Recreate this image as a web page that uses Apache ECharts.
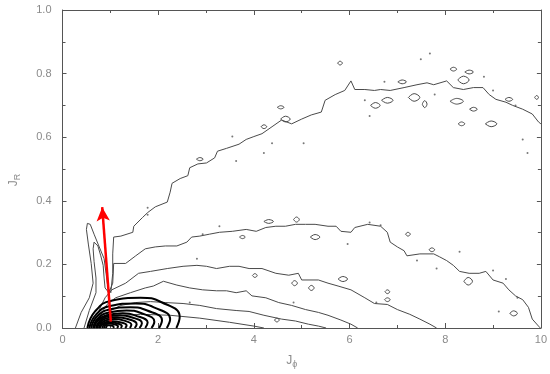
<!DOCTYPE html>
<html>
<head>
<meta charset="utf-8">
<script src="https://cdn.jsdelivr.net/npm/echarts@6/dist/echarts.min.js"></script>
<style>
  html, body { margin: 0; padding: 0; background: #fff; }
  #chart { width: 550px; height: 374px; }
</style>
</head>
<body>
<div id="chart"></div>
<script>
// axis ranges / ticks
const xRange = [0, 10]
const yRange = [0, 1]
const xTickStep = 2
const yTickStep = 0.2

// thin contour lines [J_phi, J_R]
const contourOuter = [
  [0.27,0],[0.39,0.049],[0.56,0.095],[0.64,0.141],[0.60,0.203],[0.54,0.264],[0.50,0.310],
  [0.52,0.329],[0.58,0.326],[0.66,0.295],[0.76,0.258],[0.87,0.218],[0.91,0.172],[0.95,0.126],
  [1.01,0.111],[1.05,0.172],[1.05,0.233],
  [1.07,0.286],[1.22,0.289],[1.47,0.301],[1.49,0.320],[1.67,0.347],[1.78,0.363],[1.94,0.381],
  [2.19,0.396],[2.25,0.427],[2.29,0.455],[2.46,0.470],[2.62,0.479],[2.66,0.504],[2.83,0.516],
  [3.01,0.519],[3.18,0.535],[3.24,0.556],[3.43,0.565],[3.69,0.578],[3.84,0.593],[4.00,0.602],
  [4.17,0.611],[4.38,0.633],[4.58,0.654],[4.79,0.642],[5.00,0.657],[5.20,0.670],[5.41,0.679],
  [5.49,0.716],[5.70,0.734],[5.90,0.747],[6.03,0.777],[6.11,0.750],[6.32,0.750],[6.52,0.747],
  [6.65,0.750],[6.85,0.747],[7.14,0.756],[7.41,0.765],[7.62,0.771],[7.76,0.765],[8.03,0.777],
  [8.17,0.756],[8.38,0.750],[8.59,0.756],[8.79,0.756],[8.92,0.734],[9.06,0.719],[9.27,0.710],
  [9.41,0.700],[9.62,0.688],[9.82,0.673],[9.95,0.648],[10.0,0.642]
]
const contour2 = [
  [0.45,0],[0.56,0.055],[0.70,0.111],[0.70,0.157],[0.66,0.209],[0.64,0.249],[0.66,0.270],
  [0.70,0.273],[0.74,0.258],[0.80,0.227],[0.85,0.197],[0.87,0.157],[0.89,0.126],[0.97,0.111],
  [1.05,0.141],[1.07,0.203],[1.32,0.203],
  [1.53,0.227],[1.73,0.249],[1.94,0.255],[2.15,0.258],[2.39,0.258],[2.60,0.270],[2.70,0.286],
  [2.87,0.289],[3.07,0.295],[3.28,0.301],[3.55,0.304],[3.84,0.310],[4.05,0.304],[4.25,0.316],
  [4.46,0.320],[4.66,0.320],[4.87,0.326],[5.08,0.326],[5.28,0.326],[5.55,0.320],[5.72,0.320],
  [5.82,0.304],[6.03,0.301],[6.11,0.316],[6.38,0.326],[6.65,0.320],[6.79,0.301],[6.85,0.270],
  [7.00,0.255],[7.14,0.243],[7.20,0.227],[7.47,0.233],[7.76,0.233],[7.88,0.224],[8.03,0.212],
  [8.17,0.197],[8.30,0.178],[8.50,0.172],[8.71,0.172],[8.85,0.178],[9.00,0.151],[9.21,0.141],
  [9.33,0.120],[9.47,0.101],[9.62,0.089],[9.74,0.065],[9.82,0.028],[9.95,0.006],[9.99,0]
]
const contour3 = [
  [0.76,0.055],[0.89,0.095],[1.03,0.120],[1.32,0.141],[1.59,0.172],[1.84,0.178],[2.19,0.187],
  [2.52,0.194],[2.81,0.197],[3.01,0.194],[3.22,0.187],[3.49,0.194],[3.69,0.194],[3.90,0.187],
  [4.17,0.187],[4.46,0.172],[4.73,0.166],[4.93,0.172],[5.00,0.151],[5.35,0.151],[5.55,0.141],
  [5.76,0.132],[6.03,0.120],[6.32,0.095],[6.52,0.077],[6.79,0.074],[7.00,0.058],[7.26,0.043],
  [7.47,0.028],[7.68,0.012],[7.82,0]
]
const contour4 = [
  [0.80,0.043],[0.93,0.074],[1.11,0.095],[1.42,0.111],[1.73,0.126],[1.90,0.132],[2.11,0.147],
  [2.39,0.135],[2.66,0.126],[2.93,0.120],[3.22,0.117],[3.43,0.117],[3.63,0.111],[3.84,0.117],
  [3.96,0.101],[4.25,0.095],[4.52,0.080],[4.79,0.071],[5.08,0.058],[5.35,0.049],[5.55,0.040],
  [5.82,0.025],[6.03,0.012],[6.17,0]
]
const contour5 = [
  [0.85,0.031],[1.01,0.055],[1.22,0.071],[1.53,0.080],[1.84,0.083],[2.15,0.080],[2.52,0.077],
  [2.87,0.071],[3.22,0.061],[3.63,0.055],[3.90,0.052],[4.21,0.040],[4.58,0.028],[4.87,0.022],
  [5.14,0.012],[5.35,0.006],[5.51,0]
]
const contour6 = [
  [1.01,0.037],[1.63,0.043],[2.25,0.040],[2.87,0.031],[3.49,0.018],[4.00,0.006],[4.21,0]
]
const thinContours = [contourOuter, contour2, contour3, contour4, contour5, contour6]

// thick nested contours round the density peak
const coreContours = [
  [[0.52,0],[0.68,0.052],[1.02,0.086],[1.63,0.095],[2.07,0.081],[2.45,0.035],[2.38,0]],
  [[0.56,0],[0.70,0.042],[0.99,0.069],[1.53,0.077],[1.91,0.065],[2.25,0.028],[2.18,0]],
  [[0.60,0],[0.72,0.036],[0.98,0.058],[1.42,0.065],[1.77,0.055],[2.08,0.024],[2.02,0]],
  [[0.64,0],[0.74,0.030],[0.97,0.049],[1.34,0.055],[1.64,0.047],[1.92,0.020],[1.86,0]],
  [[0.66,0],[0.75,0.025],[0.95,0.041],[1.26,0.046],[1.53,0.039],[1.78,0.017],[1.73,0]],
  [[0.70,0],[0.78,0.022],[0.94,0.036],[1.20,0.040],[1.44,0.034],[1.66,0.015],[1.61,0]],
  [[0.72,0],[0.79,0.019],[0.93,0.031],[1.14,0.034],[1.35,0.029],[1.55,0.012],[1.51,0]],
  [[0.76,0],[0.81,0.015],[0.93,0.025],[1.09,0.028],[1.27,0.024],[1.44,0.010],[1.41,0]],
  [[0.78,0],[0.83,0.012],[0.92,0.019],[1.05,0.021],[1.20,0.018],[1.34,0.008],[1.31,0]],
  [[0.83,0],[0.86,0.010],[0.93,0.016],[1.01,0.018],[1.13,0.015],[1.24,0.006],[1.22,0]],
  [[0.87,0],[0.89,0.008],[0.94,0.013],[0.99,0.014],[1.08,0.012],[1.16,0.005],[1.14,0]],
  [[0.91,0],[0.92,0.005],[0.94,0.008],[0.97,0.009],[1.02,0.008],[1.07,0.003],[1.06,0]]
]

// small closed islands
const islands = [
  [[5.75,0.833],[5.80,0.839],[5.85,0.833],[5.80,0.827]],
  [[8.10,0.814],[8.17,0.820],[8.24,0.814],[8.17,0.808]],
  [[8.41,0.805],[8.50,0.811],[8.59,0.805],[8.50,0.799]],
  [[8.26,0.780],[8.38,0.792],[8.50,0.780],[8.38,0.768]],
  [[7.01,0.774],[7.10,0.780],[7.19,0.774],[7.10,0.768]],
  [[7.23,0.725],[7.35,0.737],[7.47,0.725],[7.35,0.713]],
  [[7.52,0.704],[7.57,0.715],[7.62,0.704],[7.57,0.693]],
  [[6.44,0.700],[6.54,0.709],[6.64,0.700],[6.54,0.691]],
  [[6.67,0.716],[6.79,0.725],[6.91,0.716],[6.79,0.707]],
  [[8.10,0.713],[8.24,0.722],[8.38,0.713],[8.24,0.704]],
  [[8.51,0.688],[8.59,0.694],[8.67,0.688],[8.59,0.682]],
  [[9.25,0.719],[9.33,0.725],[9.41,0.719],[9.33,0.713]],
  [[8.27,0.642],[8.34,0.648],[8.41,0.642],[8.34,0.636]],
  [[8.84,0.642],[8.96,0.651],[9.08,0.642],[8.96,0.633]],
  [[4.49,0.694],[4.56,0.699],[4.63,0.694],[4.56,0.689]],
  [[4.56,0.657],[4.66,0.666],[4.76,0.657],[4.66,0.648]],
  [[2.80,0.531],[2.87,0.536],[2.94,0.531],[2.87,0.526]],
  [[4.21,0.335],[4.31,0.341],[4.41,0.335],[4.31,0.329]],
  [[4.83,0.341],[4.89,0.349],[4.95,0.341],[4.89,0.333]],
  [[5.18,0.286],[5.28,0.294],[5.38,0.286],[5.28,0.278]],
  [[7.17,0.295],[7.22,0.301],[7.27,0.295],[7.22,0.289]],
  [[8.39,0.147],[8.48,0.159],[8.57,0.147],[8.48,0.135]],
  [[9.35,0.046],[9.43,0.054],[9.51,0.046],[9.43,0.038]],
  [[4.79,0.141],[4.85,0.149],[4.91,0.141],[4.85,0.133]],
  [[5.14,0.126],[5.20,0.134],[5.26,0.126],[5.20,0.118]],
  [[5.76,0.154],[5.86,0.162],[5.96,0.154],[5.86,0.146]],
  [[6.74,0.114],[6.79,0.120],[6.84,0.114],[6.79,0.108]],
  [[6.73,0.089],[6.79,0.095],[6.85,0.089],[6.79,0.083]],
  [[3.97,0.165],[4.02,0.171],[4.07,0.165],[4.02,0.159]],
  [[7.66,0.246],[7.72,0.252],[7.78,0.246],[7.72,0.240]],
  [[4.43,0.025],[4.48,0.031],[4.53,0.025],[4.48,0.019]],
  [[3.70,0.286],[3.76,0.291],[3.82,0.286],[3.76,0.281]],
  [[9.87,0.725],[9.91,0.731],[9.95,0.725],[9.91,0.719]],
  [[4.15,0.633],[4.21,0.639],[4.27,0.633],[4.21,0.627]]
]

// isolated specks
const specks = [
  [7.49,0.845],[7.68,0.863],[8.81,0.790],[6.73,0.774],[7.78,0.734],[6.32,0.716],[6.42,0.667],
  [9.00,0.747],[9.47,0.700],[9.62,0.593],[5.04,0.581],[4.38,0.581],[3.55,0.602],[3.63,0.525],
  [1.78,0.378],[1.78,0.356],[5.96,0.264],[6.42,0.332],[6.65,0.323],[7.41,0.212],[7.82,0.187],
  [8.30,0.240],[9.00,0.181],[9.27,0.154],[9.51,0.095],[3.28,0.320],[2.93,0.295],[2.81,0.218],
  [2.66,0.080],[4.83,0.080],[6.56,0.080],[9.12,0.052],[4.21,0.550],[9.72,0.550]
]

// red arrow: start, tip
const arrow = [[1.01, 0.02], [0.83, 0.38]]

const chart = echarts.init(document.getElementById('chart'))

const axisColor = '#555'
const labelColor = '#8a8a8a'
const font = 'Liberation Sans, Arial, sans-serif'

function frameX(pos, labels) {
  return {
    type: 'value', position: pos, min: xRange[0], max: xRange[1], interval: xTickStep,
    axisLine: { show: true, onZero: false, lineStyle: { color: axisColor, width: 1 } },
    axisTick: { show: true, inside: true, length: 5, lineStyle: { color: axisColor } },
    minorTick: { show: true, splitNumber: 2, length: 3, lineStyle: { color: axisColor } },
    axisLabel: { show: labels, color: labelColor, fontSize: 11, fontFamily: font, margin: 6 },
    splitLine: { show: false }, minorSplitLine: { show: false }
  }
}
function frameY(pos, labels) {
  return {
    type: 'value', position: pos, min: yRange[0], max: yRange[1], interval: yTickStep,
    axisLine: { show: true, onZero: false, lineStyle: { color: axisColor, width: 1 } },
    axisTick: { show: true, inside: true, length: 4, lineStyle: { color: axisColor } },
    minorTick: { show: true, splitNumber: 2, length: 3, lineStyle: { color: axisColor } },
    axisLabel: { show: labels, color: labelColor, fontSize: 11, fontFamily: font, margin: 11,
      formatter: v => v.toFixed(1) },
    splitLine: { show: false }, minorSplitLine: { show: false }
  }
}

const nameRich = {
  j: { color: labelColor, fontSize: 12, fontFamily: font },
  s: { color: labelColor, fontSize: 9, fontFamily: font, padding: [8, 0, 0, 0] }
}
const xBottom = frameX('bottom', true)
xBottom.name = '{j|J}{s|\u03d5}'
xBottom.nameLocation = 'middle'
xBottom.nameGap = 24
xBottom.nameTextStyle = { rich: nameRich, padding: [0, 20, 0, 0] }
const yLeft = frameY('left', true)
yLeft.name = '{j|J}{s|R}'
yLeft.nameLocation = 'middle'
yLeft.nameGap = 40
yLeft.nameRotate = 90
yLeft.nameTextStyle = { rich: nameRich, padding: [0, 22, 0, 0] }

const series = []
thinContours.forEach(c => {
  series.push({ type: 'line', data: c, showSymbol: false, silent: true,
    lineStyle: { color: '#4a4a4a', width: 1 } })
})
// islands in one series, broken by gaps
const islandData = []
islands.forEach(loop => {
  loop.forEach(p => islandData.push(p))
  islandData.push(loop[0])
  islandData.push('-')
})
series.push({ type: 'line', data: islandData, showSymbol: false, silent: true, smooth: 0.4,
  connectNulls: false, lineStyle: { color: '#4a4a4a', width: 1 } })
series.push({ type: 'scatter', data: specks, symbolSize: 2, silent: true,
  itemStyle: { color: '#555' } })
coreContours.forEach(c => {
  series.push({ type: 'line', data: c, showSymbol: false, silent: true, smooth: 0.5,
    lineStyle: { color: '#000', width: 2 } })
})
series.push({ type: 'line', data: [], silent: true,
  markLine: { silent: true, symbol: ['none', 'arrow'], symbolSize: [10, 14], animation: false,
    label: { show: false },
    lineStyle: { color: '#ff0000', width: 2.5, type: 'solid' },
    data: [[{ coord: arrow[0] }, { coord: arrow[1] }]] } })

chart.setOption({
  backgroundColor: '#fff',
  animation: false,
  grid: { left: 61, right: 5, top: 10, bottom: 38 },
  xAxis: [xBottom, frameX('top', false)],
  yAxis: [yLeft, frameY('right', false)],
  series: series
})
</script>
</body>
</html>
